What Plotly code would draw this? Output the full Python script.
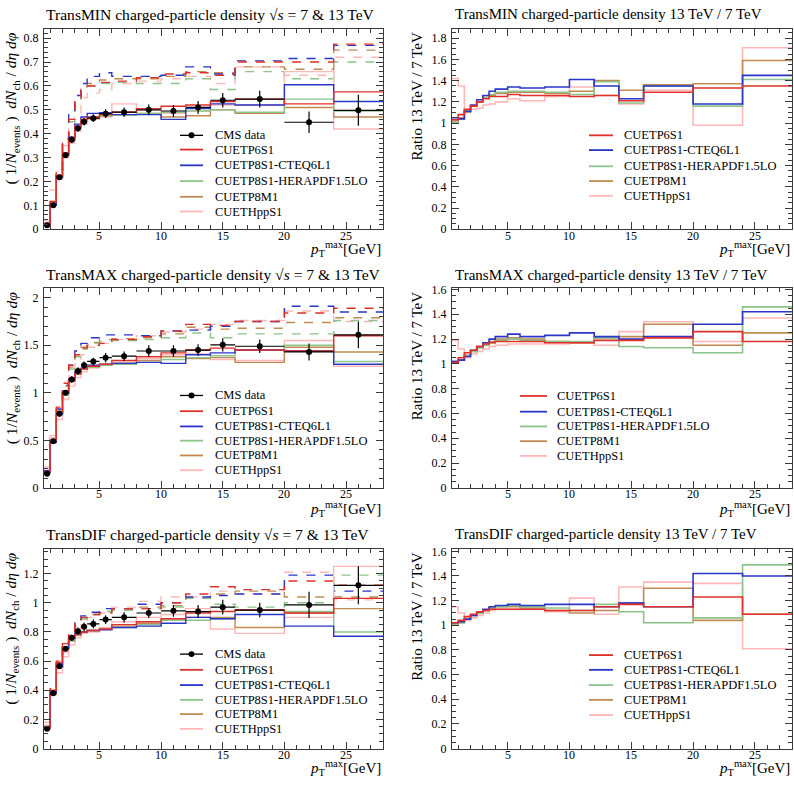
# -*- coding: utf-8 -*-
"""
UE charged-particle densities (TransMIN / TransMAX / TransDIF) at 7 and 13 TeV
"""

import plotly.graph_objects as go

# --------------------------------------------------------------- #
#### Data ####
# --------------------------------------------------------------- #

edges = [0.5, 1, 1.5, 2, 2.5, 3, 3.5, 4, 5, 6, 8, 10, 12, 14, 16, 20, 24, 28]
data_x = [0.75, 1.25, 1.75, 2.25, 2.75, 3.25, 3.75, 4.5, 5.5, 7, 9, 11, 13, 15, 18, 22, 26]
x_ticks = [5, 10, 15, 20, 25]

tunes = ["CUETP6S1", "CUETP8S1-CTEQ6L1", "CUETP8S1-HERAPDF1.5LO", "CUETP8M1", "CUETHppS1"]
labels = ["CUETP6S1", "CUETP8S1-CTEQ6L1", "CUETP8S1-HERAPDF1.5LO", "CUETP8M1", "CUETHppS1"]

# TransMIN
min_data = [0.017, 0.10, 0.218, 0.31, 0.375, 0.423, 0.45, 0.465, 0.484, 0.49, 0.50, 0.495, 0.51, 0.54, 0.545, 0.448, 0.498]
min_err = [0.004, 0.008, 0.01, 0.012, 0.014, 0.015, 0.016, 0.016, 0.018, 0.02, 0.022, 0.025, 0.027, 0.03, 0.035, 0.045, 0.065]
min_7 = {
    "CUETP6S1": [0.02, 0.115, 0.225, 0.32, 0.38, 0.43, 0.46, 0.47, 0.48, 0.49, 0.505, 0.515, 0.52, 0.535, 0.545, 0.525, 0.575],
    "CUETP8S1-CTEQ6L1": [0.02, 0.10, 0.22, 0.315, 0.385, 0.44, 0.47, 0.485, 0.488, 0.48, 0.48, 0.46, 0.505, 0.525, 0.52, 0.605, 0.535],
    "CUETP8S1-HERAPDF1.5LO": [0.02, 0.105, 0.215, 0.31, 0.375, 0.43, 0.46, 0.47, 0.475, 0.478, 0.485, 0.49, 0.495, 0.50, 0.49, 0.545, 0.495],
    "CUETP8M1": [0.02, 0.11, 0.22, 0.31, 0.375, 0.425, 0.455, 0.465, 0.475, 0.48, 0.485, 0.47, 0.475, 0.50, 0.485, 0.51, 0.47],
    "CUETHppS1": [0.025, 0.12, 0.21, 0.30, 0.36, 0.41, 0.44, 0.46, 0.47, 0.525, 0.50, 0.485, 0.495, 0.52, 0.52, 0.66, 0.42],
}
min_13 = {
    "CUETP6S1": [0.025, 0.12, 0.25, 0.38, 0.46, 0.55, 0.585, 0.60, 0.615, 0.62, 0.635, 0.65, 0.655, 0.645, 0.70, 0.70, 0.775],
    "CUETP8S1-CTEQ6L1": [0.02, 0.11, 0.25, 0.37, 0.48, 0.56, 0.61, 0.64, 0.655, 0.64, 0.64, 0.645, 0.68, 0.65, 0.705, 0.715, 0.77],
    "CUETP8S1-HERAPDF1.5LO": [0.02, 0.11, 0.24, 0.36, 0.45, 0.53, 0.58, 0.60, 0.61, 0.615, 0.61, 0.61, 0.63, 0.585, 0.66, 0.63, 0.70],
    "CUETP8M1": [0.02, 0.115, 0.24, 0.36, 0.46, 0.54, 0.59, 0.61, 0.625, 0.63, 0.63, 0.64, 0.66, 0.655, 0.68, 0.67, 0.75],
    "CUETHppS1": [0.035, 0.165, 0.24, 0.35, 0.44, 0.48, 0.55, 0.57, 0.585, 0.61, 0.62, 0.63, 0.64, 0.61, 0.68, 0.645, 0.72],
}
min_ratio = {
    "CUETP6S1": [1.03, 1.08, 1.13, 1.16, 1.20, 1.23, 1.25, 1.25, 1.27, 1.26, 1.26, 1.25, 1.26, 1.21, 1.29, 1.33, 1.35],
    "CUETP8S1-CTEQ6L1": [1.05, 1.04, 1.11, 1.17, 1.22, 1.26, 1.30, 1.32, 1.34, 1.33, 1.34, 1.41, 1.35, 1.23, 1.35, 1.18, 1.45],
    "CUETP8S1-HERAPDF1.5LO": [1.01, 1.04, 1.11, 1.16, 1.20, 1.24, 1.27, 1.29, 1.30, 1.30, 1.29, 1.27, 1.39, 1.19, 1.35, 1.16, 1.41],
    "CUETP8M1": [1.01, 1.05, 1.11, 1.16, 1.20, 1.24, 1.26, 1.28, 1.29, 1.29, 1.28, 1.30, 1.40, 1.31, 1.36, 1.37, 1.59],
    "CUETHppS1": [1.42, 1.35, 1.10, 1.13, 1.14, 1.17, 1.18, 1.20, 1.23, 1.21, 1.25, 1.34, 1.26, 1.18, 1.31, 0.98, 1.71],
}

# TransMAX
max_data = [0.15, 0.49, 0.78, 1.0, 1.14, 1.23, 1.29, 1.33, 1.37, 1.385, 1.44, 1.44, 1.45, 1.505, 1.49, 1.43, 1.61]
max_err = [0.02, 0.02, 0.03, 0.03, 0.035, 0.04, 0.04, 0.04, 0.05, 0.05, 0.06, 0.06, 0.06, 0.07, 0.07, 0.09, 0.14]
max_7 = {
    "CUETP6S1": [0.17, 0.50, 0.80, 1.02, 1.13, 1.20, 1.25, 1.28, 1.30, 1.34, 1.38, 1.42, 1.45, 1.47, 1.45, 1.44, 1.60],
    "CUETP8S1-CTEQ6L1": [0.17, 0.48, 0.78, 1.00, 1.14, 1.22, 1.26, 1.29, 1.30, 1.31, 1.32, 1.31, 1.40, 1.42, 1.45, 1.44, 1.30],
    "CUETP8S1-HERAPDF1.5LO": [0.16, 0.49, 0.77, 0.98, 1.12, 1.20, 1.25, 1.27, 1.29, 1.30, 1.32, 1.35, 1.37, 1.39, 1.45, 1.50, 1.33],
    "CUETP8M1": [0.16, 0.49, 0.78, 1.00, 1.12, 1.20, 1.25, 1.27, 1.29, 1.31, 1.34, 1.38, 1.36, 1.37, 1.32, 1.48, 1.43],
    "CUETHppS1": [0.20, 0.52, 0.72, 0.93, 1.07, 1.16, 1.22, 1.26, 1.29, 1.32, 1.36, 1.40, 1.41, 1.35, 1.34, 1.55, 1.28],
}
max_13 = {
    "CUETP6S1": [0.17, 0.52, 0.85, 1.10, 1.29, 1.40, 1.47, 1.50, 1.52, 1.56, 1.59, 1.65, 1.72, 1.71, 1.75, 1.84, 1.89],
    "CUETP8S1-CTEQ6L1": [0.18, 0.50, 0.83, 1.08, 1.29, 1.44, 1.52, 1.58, 1.61, 1.61, 1.60, 1.65, 1.66, 1.70, 1.75, 1.91, 1.85],
    "CUETP8S1-HERAPDF1.5LO": [0.16, 0.50, 0.81, 1.05, 1.25, 1.38, 1.46, 1.52, 1.54, 1.55, 1.56, 1.58, 1.63, 1.58, 1.62, 1.62, 1.76],
    "CUETP8M1": [0.16, 0.50, 0.82, 1.07, 1.27, 1.40, 1.48, 1.53, 1.56, 1.57, 1.58, 1.62, 1.69, 1.67, 1.68, 1.74, 1.79],
    "CUETHppS1": [0.22, 0.55, 0.78, 1.00, 1.18, 1.30, 1.40, 1.48, 1.52, 1.56, 1.60, 1.64, 1.67, 1.72, 1.76, 1.86, 1.75],
}
max_ratio = {
    "CUETP6S1": [1.01, 1.05, 1.09, 1.11, 1.14, 1.16, 1.17, 1.18, 1.18, 1.18, 1.17, 1.17, 1.19, 1.19, 1.21, 1.26, 1.18],
    "CUETP8S1-CTEQ6L1": [1.02, 1.03, 1.06, 1.11, 1.14, 1.17, 1.20, 1.22, 1.24, 1.22, 1.23, 1.25, 1.22, 1.20, 1.22, 1.32, 1.42],
    "CUETP8S1-HERAPDF1.5LO": [1.01, 1.03, 1.07, 1.10, 1.13, 1.15, 1.17, 1.19, 1.20, 1.19, 1.18, 1.18, 1.21, 1.14, 1.13, 1.09, 1.46],
    "CUETP8M1": [1.01, 1.03, 1.07, 1.10, 1.13, 1.16, 1.18, 1.20, 1.21, 1.20, 1.18, 1.17, 1.21, 1.22, 1.32, 1.15, 1.25],
    "CUETHppS1": [1.19, 1.12, 1.05, 1.08, 1.10, 1.12, 1.14, 1.15, 1.16, 1.16, 1.16, 1.17, 1.15, 1.26, 1.34, 1.18, 1.37],
}

# TransDIF
dif_data = [0.135, 0.38, 0.565, 0.685, 0.76, 0.805, 0.835, 0.855, 0.885, 0.90, 0.93, 0.945, 0.94, 0.97, 0.95, 0.985, 1.12]
dif_err = [0.01, 0.012, 0.015, 0.018, 0.02, 0.025, 0.03, 0.03, 0.03, 0.035, 0.035, 0.04, 0.045, 0.05, 0.05, 0.09, 0.13]
dif_7 = {
    "CUETP6S1": [0.14, 0.40, 0.59, 0.72, 0.76, 0.78, 0.80, 0.81, 0.82, 0.85, 0.87, 0.89, 0.93, 0.94, 0.95, 0.93, 1.03],
    "CUETP8S1-CTEQ6L1": [0.15, 0.38, 0.56, 0.69, 0.76, 0.79, 0.80, 0.81, 0.815, 0.83, 0.84, 0.86, 0.90, 0.89, 0.92, 0.84, 0.77],
    "CUETP8S1-HERAPDF1.5LO": [0.14, 0.38, 0.56, 0.68, 0.74, 0.78, 0.80, 0.81, 0.82, 0.83, 0.85, 0.88, 0.88, 0.89, 0.95, 0.94, 0.80],
    "CUETP8M1": [0.14, 0.39, 0.57, 0.69, 0.74, 0.78, 0.80, 0.81, 0.82, 0.84, 0.86, 0.88, 0.90, 0.90, 0.83, 0.93, 0.96],
    "CUETHppS1": [0.16, 0.37, 0.52, 0.63, 0.71, 0.76, 0.79, 0.80, 0.83, 0.87, 0.90, 0.92, 0.96, 0.82, 0.79, 0.90, 1.25],
}
dif_13 = {
    "CUETP6S1": [0.15, 0.41, 0.60, 0.73, 0.81, 0.86, 0.90, 0.92, 0.93, 0.96, 0.96, 1.00, 1.06, 1.11, 1.09, 1.15, 1.12],
    "CUETP8S1-CTEQ6L1": [0.15, 0.39, 0.58, 0.71, 0.80, 0.87, 0.91, 0.935, 0.96, 0.96, 0.99, 1.00, 1.04, 1.05, 1.06, 1.19, 1.08],
    "CUETP8S1-HERAPDF1.5LO": [0.14, 0.38, 0.57, 0.69, 0.78, 0.84, 0.89, 0.92, 0.94, 0.95, 0.96, 0.97, 1.03, 0.99, 0.97, 1.00, 1.19],
    "CUETP8M1": [0.14, 0.39, 0.58, 0.70, 0.79, 0.85, 0.89, 0.92, 0.94, 0.95, 0.97, 0.98, 1.03, 1.06, 1.08, 1.04, 1.04],
    "CUETHppS1": [0.18, 0.39, 0.55, 0.66, 0.75, 0.82, 0.87, 0.90, 0.93, 0.97, 1.01, 1.04, 1.04, 1.08, 1.06, 1.21, 1.02],
}
dif_ratio = {
    "CUETP6S1": [1.02, 1.04, 1.07, 1.09, 1.11, 1.12, 1.13, 1.13, 1.13, 1.13, 1.12, 1.12, 1.15, 1.17, 1.15, 1.23, 1.09],
    "CUETP8S1-CTEQ6L1": [1.02, 1.03, 1.05, 1.08, 1.11, 1.13, 1.15, 1.16, 1.17, 1.16, 1.17, 1.17, 1.15, 1.18, 1.15, 1.42, 1.40],
    "CUETP8S1-HERAPDF1.5LO": [1.01, 1.02, 1.05, 1.08, 1.10, 1.12, 1.14, 1.15, 1.16, 1.15, 1.14, 1.12, 1.17, 1.11, 1.02, 1.06, 1.49],
    "CUETP8M1": [1.01, 1.02, 1.05, 1.08, 1.10, 1.12, 1.14, 1.15, 1.15, 1.14, 1.12, 1.10, 1.12, 1.18, 1.30, 1.04, 1.09],
    "CUETHppS1": [1.15, 1.10, 1.04, 1.06, 1.08, 1.10, 1.12, 1.13, 1.13, 1.13, 1.11, 1.22, 1.09, 1.31, 1.35, 1.34, 0.81],
}

# --------------------------------------------------------------- #
#### Style ####
# --------------------------------------------------------------- #

W, H = 794, 786
FONT = "Liberation Serif"
FRAME = "#3a3a3a"

colors = {
    "CUETP6S1": "#e0302a",
    "CUETP8S1-CTEQ6L1": "#2b35c8",
    "CUETP8S1-HERAPDF1.5LO": "#8cc48c",
    "CUETP8M1": "#c08a52",
    "CUETHppS1": "#ffb8b8",
}

# panel pixel boxes: (left, right) and (top, bottom)
left_col = (44, 383)
right_col = (452, 792)
rows = [(23, 227), (287, 490), (552, 755)]


def px(x):
    return x / W


def py(y):
    return 1 - y / H


# --------------------------------------------------------------- #
#### Figure ####
# --------------------------------------------------------------- #

fig = go.Figure()
shapes = []
annotations = []


def step(vals):
    return vals + [vals[-1]]


def add_hist(k, vals, color, dash, width):
    fig.add_trace(go.Scatter(
        x=edges, y=step(vals), mode="lines", line_shape="hv",
        line=dict(color=color, width=width, dash=dash),
        xaxis="x%d" % k, yaxis="y%d" % k, showlegend=False, hoverinfo="skip"))


def add_data(k, vals, errs):
    xerr = [(edges[i + 1] - edges[i]) / 2 for i in range(len(vals))]
    fig.add_trace(go.Scatter(
        x=data_x, y=vals, mode="markers",
        marker=dict(color="black", size=6),
        error_y=dict(type="data", array=errs, color="black", thickness=1.2, width=0),
        error_x=dict(type="data", array=xerr, color="black", thickness=1.2, width=0),
        xaxis="x%d" % k, yaxis="y%d" % k, showlegend=False))


def text(x, y, s, size=12.5, xanchor="left", yanchor="middle", angle=0):
    annotations.append(dict(
        x=px(x), y=py(y), xref="paper", yref="paper", text=s, showarrow=False,
        xanchor=xanchor, yanchor=yanchor, textangle=angle,
        font=dict(family=FONT, size=size, color="black")))


def xtick_labels(k, bottom):
    for v in x_ticks:
        annotations.append(dict(
            x=v, xref="x%d" % k, y=py(bottom + 6.5), yref="paper", text=str(v),
            showarrow=False, xanchor="center", yanchor="middle", borderpad=0,
            font=dict(family=FONT, size=12, color="black")))


def legend(x0, x1, tx, ys, with_data):
    items = list(zip(labels, [colors[t] for t in tunes]))
    if with_data:
        items = [("CMS data", "black")] + items
    for (name, col), y in zip(items, ys):
        shapes.append(dict(type="line", xref="paper", yref="paper",
                           x0=px(x0), x1=px(x1), y0=py(y), y1=py(y),
                           line=dict(color=col, width=1.8 if name != "CMS data" else 1.3)))
        if name == "CMS data":
            xm = (x0 + x1) / 2
            shapes.append(dict(type="circle", xref="paper", yref="paper",
                               x0=px(xm - 3), x1=px(xm + 3), y0=py(y + 3), y1=py(y - 3),
                               fillcolor="black", line=dict(color="black", width=0)))
        text(tx, y, name)


def axes(k, col, row, yrange, ydtick, yminor):
    xd = [px(col[0]), px(col[1])]
    yd = [py(row[1]), py(row[0])]
    common = dict(showline=True, linecolor=FRAME, linewidth=1, mirror="allticks",
                  ticks="inside", tickcolor=FRAME, ticklen=7, showgrid=False,
                  zeroline=False, tickfont=dict(family=FONT, size=12, color="black"))
    fig.layout["xaxis%d" % k] = dict(
        common, domain=xd, range=[0.5, 28], tick0=0, dtick=5, anchor="y%d" % k,
        showticklabels=False,
        minor=dict(tick0=0, dtick=1, ticks="inside", ticklen=4, tickcolor=FRAME))
    fig.layout["yaxis%d" % k] = dict(
        common, domain=yd, range=yrange, tick0=0, dtick=ydtick, anchor="x%d" % k,
        ticklabelstandoff=2,
        minor=dict(tick0=0, dtick=yminor, ticks="inside", ticklen=4, tickcolor=FRAME))
    xtick_labels(k, row[1])


regions = [
    ("TransMIN", min_data, min_err, min_7, min_13, min_ratio, [0, 0.84], 0.1, 0.02, [0, 1.89]),
    ("TransMAX", max_data, max_err, max_7, max_13, max_ratio, [0, 2.1], 0.5, 0.1, [0, 1.61]),
    ("TransDIF", dif_data, dif_err, dif_7, dif_13, dif_ratio, [0, 1.37], 0.2, 0.05, [0, 1.62]),
]

legend_left = [
    [131.5, 146, 162, 178, 194, 209],
    [396, 412, 427.5, 442, 457, 472],
    [659, 675, 690.5, 705.5, 720, 735],
]
legend_right = [
    (589, 613, 622, [131.5, 146.5, 163, 178, 193]),
    (520, 547, 555, [396.5, 412.5, 427.5, 442.5, 457.5]),
    (589, 613, 622, [660, 675, 690.5, 705.5, 721]),
]
title_y = [8.5, 273.5, 537]
xlabel_y = [247, 511, 775]

ylab_left = "( 1/<i>N</i><sub>events</sub> )  <i>dN</i><sub>ch</sub> / <i>dη</i> <i>dφ</i>"
xlab = "<i>p</i><sub>T</sub><sup>max</sup>[GeV]"

for r, (name, dat, err, h7, h13, hr, yr, dt, mn, ratio_range) in enumerate(regions):
    kl = 2 * r + 1
    kr = 2 * r + 2
    axes(kl, left_col, rows[r], yr, dt, mn)
    axes(kr, right_col, rows[r], ratio_range, 0.2, 0.05)

    for t in reversed(tunes):
        add_hist(kl, h13[t], colors[t], "dash", 1.4)
    for t in reversed(tunes):
        add_hist(kl, h7[t], colors[t], "solid", 1.4)
    add_data(kl, dat, err)
    for t in reversed(tunes):
        add_hist(kr, hr[t], colors[t], "solid", 1.6)

    legend(180, 203, 213, legend_left[r], True)
    x0, x1, tx, ys = legend_right[r]
    legend(x0, x1, tx, ys, False)

    text(44, title_y[r], name + " charged-particle density √<i>s</i> = 7 & 13 TeV", size=15.6)
    text(453, title_y[r], name + " charged-particle density 13 TeV / 7 TeV", size=15)
    text(left_col[1], xlabel_y[r], xlab, size=15, xanchor="right")
    text(right_col[1], xlabel_y[r], xlab, size=15, xanchor="right")
    text(12, rows[r][0] + 2, ylab_left, size=15.5, xanchor="center", yanchor="top", angle=-90)
    text(417, rows[r][0] + 2, "Ratio 13 TeV / 7 TeV", size=15, xanchor="center", yanchor="top", angle=-90)

fig.update_layout(
    width=W, height=H,
    margin=dict(l=0, r=0, t=0, b=0),
    paper_bgcolor="white", plot_bgcolor="white",
    showlegend=False,
    shapes=shapes, annotations=annotations,
    font=dict(family=FONT, color="black"),
)

# the page body has a default 8px margin; drop it so the figure fills the window
fig.write_html("out.html", config={"displayModeBar": False},
               post_script="document.body.style.margin = '0';")
